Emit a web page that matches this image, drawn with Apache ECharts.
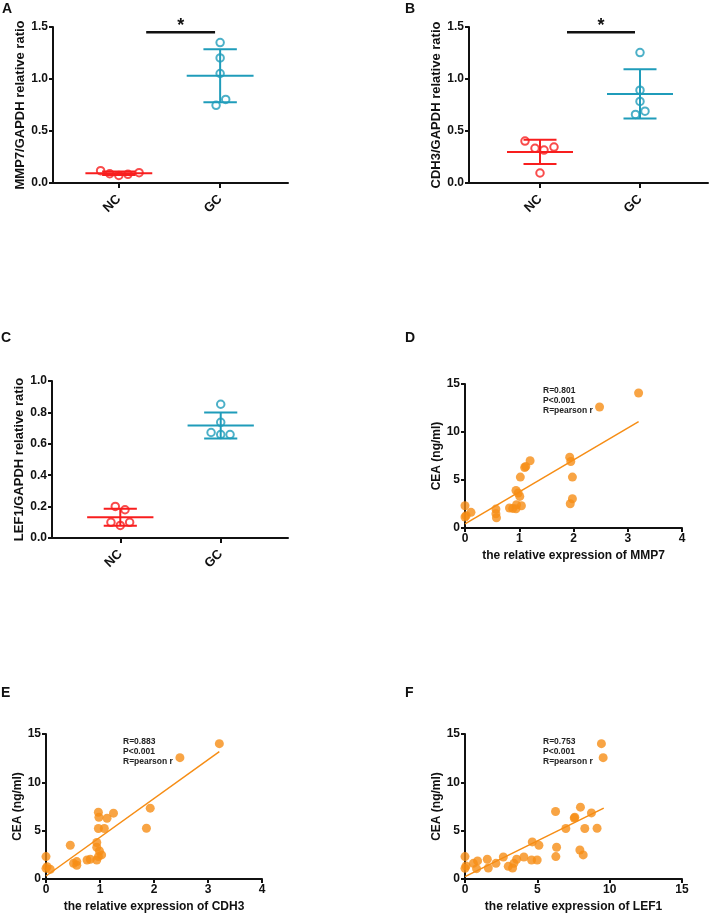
<!DOCTYPE html>
<html>
<head>
<meta charset="utf-8">
<script src="https://cdn.jsdelivr.net/npm/echarts@6/dist/echarts.min.js"></script>
<style>
html,body{margin:0;padding:0;background:#fff;}
#chart{width:709px;height:915px;}
</style>
</head>
<body>
<div id="chart"></div>
<script>
// ---------- data ----------
const groups = ['NC', 'GC'];

// Panel A: MMP7/GAPDH
const mmp7NC = [0.118, 0.089, 0.073, 0.083, 0.099];
const mmp7NCJitter = [-0.18, -0.09, 0, 0.09, 0.2];
const mmp7GC = [1.35, 1.203, 1.053, 0.804, 0.747];
const mmp7GCJitter = [0, 0, 0, 0.055, -0.04];
const mmp7Mean = [0.093, 1.031];
const mmp7SD = [0.017, 0.255];

// Panel B: CDH3/GAPDH
const cdh3NC = [0.403, 0.333, 0.317, 0.345, 0.096];
const cdh3NCJitter = [-0.15, -0.05, 0.04, 0.14, 0];
const cdh3GC = [1.254, 0.892, 0.784, 0.659, 0.691];
const cdh3GCJitter = [0, 0, 0, -0.045, 0.05];
const cdh3Mean = [0.299, 0.856];
const cdh3SD = [0.117, 0.237];

// Panel C: LEF1/GAPDH
const lef1NC = [0.201, 0.18, 0.10, 0.08, 0.10];
const lef1NCJitter = [-0.05, 0.047, -0.093, 0, 0.093];
const lef1GC = [0.852, 0.737, 0.672, 0.659, 0.659];
const lef1GCJitter = [0, 0, -0.096, 0, 0.093];
const lef1Mean = [0.132, 0.716];
const lef1SD = [0.054, 0.083];

// significance bar (x from, x to, y)
const sigBarX = [1.27, 1.95];
const sigBarY = 1.45;

// Panel D: MMP7 vs CEA
const dMMP7 = [0, 0.02, 0, 0.11, 0.57, 0.57, 0.58, 0.82, 0.88, 0.94, 0.95, 1.04, 0.94, 0.98, 1.01, 1.02, 1.1, 1.12, 1.2, 1.93, 1.95, 1.98, 1.98, 1.94, 2.48, 3.2];
const dCEA  = [2.32, 1.28, 1.14, 1.63, 1.97, 1.49, 1.07, 2.08, 2.04, 2.0, 2.42, 2.32, 3.91, 3.64, 3.29, 5.3, 6.3, 6.41, 7.0, 7.38, 6.93, 5.3, 3.05, 2.53, 12.6, 14.06];
const dFitX = [0, 3.2];
const dFitY = [0.42, 11.08];

// Panel E: CDH3 vs CEA
const eCDH3 = [0, 0.02, 0, 0.08, 0.45, 0.51, 0.57, 0.57, 0.76, 0.82, 0.94, 0.97, 1.03, 0.94, 0.94, 0.99, 0.97, 1.08, 0.97, 0.98, 1.13, 1.25, 1.86, 1.93, 2.48, 3.21];
const eCEA  = [2.32, 1.28, 1.1, 1.0, 3.49, 1.62, 1.8, 1.42, 1.97, 2.04, 1.97, 2.32, 2.49, 3.28, 3.77, 2.9, 5.22, 5.22, 6.91, 6.39, 6.29, 6.81, 5.25, 7.33, 12.55, 14.0];
const eFitX = [0, 3.21];
const eFitY = [0.31, 13.17];

// Panel F: LEF1 vs CEA
const fLEF1 = [0, 0.07, 0, 0.58, 0.87, 0.8, 1.54, 1.61, 2.14, 2.65, 2.99, 3.29, 3.38, 3.57, 4.07, 4.6, 4.99, 4.65, 5.11, 6.26, 6.33, 6.28, 6.97, 7.55, 7.59, 7.98, 7.94, 8.17, 8.28, 8.74, 9.13, 9.43, 9.55];
const fCEA  = [2.32, 1.35, 1.1, 1.62, 1.87, 1.07, 2.04, 1.14, 1.62, 2.28, 1.31, 1.14, 1.62, 2.04, 2.28, 1.97, 1.97, 3.84, 3.49, 6.98, 3.28, 2.32, 5.22, 6.3, 6.39, 7.43, 3.0, 2.49, 5.22, 6.84, 5.25, 14.0, 12.55];
const fFitX = [0, 9.59];
const fFitY = [0.24, 7.33];

const statsD = ['R=0.801', 'P<0.001', 'R=pearson r'];
const statsE = ['R=0.883', 'P<0.001', 'R=pearson r'];
const statsF = ['R=0.753', 'P<0.001', 'R=pearson r'];

// ---------- styling ----------
const FONT = "'Liberation Sans', Arial, Helvetica, sans-serif";
const RED = '#f81e1e';
const TEAL = '#1f9cba';
const ORANGE = '#f68d15';
const INK = '#111';

const grids = [
  {left: 53, top: 27, width: 235, height: 156},   // A
  {left: 469, top: 27, width: 239, height: 156},  // B
  {left: 52, top: 381, width: 236, height: 157},  // C
  {left: 465, top: 384, width: 217, height: 144}, // D
  {left: 46, top: 734, width: 216, height: 145},  // E
  {left: 465, top: 734, width: 217, height: 145}  // F
];

const axisLine = {lineStyle: {color: INK, width: 2}};
const tickStyle = {lineStyle: {color: INK, width: 2}};
const labelBase = {color: INK, fontSize: 12, fontWeight: 'bold', fontFamily: FONT};

function dotX(gi, min, max) {
  return {
    gridIndex: gi, type: 'value', min: min, max: max,
    axisLine: axisLine, splitLine: {show: false},
    axisTick: Object.assign({customValues: [1, 2], length: 5, inside: false}, tickStyle),
    axisLabel: Object.assign({}, labelBase, {customValues: [1, 2], rotate: 45, margin: 14, fontSize: 13,
      formatter: v => groups[Math.round(v) - 1] || ''})
  };
}
function dotY(gi, max, interval, name, gap) {
  return {
    gridIndex: gi, type: 'value', min: 0, max: max, interval: interval,
    axisLine: Object.assign({show: true}, axisLine), splitLine: {show: false},
    axisTick: Object.assign({show: true, length: 4}, tickStyle),
    axisLabel: Object.assign({margin: 5, formatter: v => v.toFixed(1)}, labelBase),
    name: name, nameLocation: 'middle', nameGap: gap, nameRotate: 90,
    nameTextStyle: {color: INK, fontSize: 13, fontWeight: 'bold', fontFamily: FONT}
  };
}
function scX(gi, max, interval, name) {
  return {
    gridIndex: gi, type: 'value', min: 0, max: max, interval: interval,
    axisLine: axisLine, splitLine: {show: false},
    axisTick: Object.assign({length: 4}, tickStyle),
    axisLabel: Object.assign({margin: 5}, labelBase),
    name: name, nameLocation: 'middle', nameGap: 22,
    nameTextStyle: {color: INK, fontSize: 12, fontWeight: 'bold', fontFamily: FONT}
  };
}
function scY(gi, name, gap) {
  return {
    gridIndex: gi, type: 'value', min: 0, max: 15, interval: 5,
    axisLine: Object.assign({show: true}, axisLine), splitLine: {show: false},
    axisTick: Object.assign({show: true, length: 4}, tickStyle),
    axisLabel: Object.assign({margin: 5}, labelBase),
    name: name, nameLocation: 'middle', nameGap: gap, nameRotate: 90,
    nameTextStyle: {color: INK, fontSize: 12, fontWeight: 'bold', fontFamily: FONT}
  };
}

function zipJ(vals, jit, center) { return vals.map((v, i) => [center + jit[i], v]); }
function zip(xs, ys) { return xs.map((x, i) => [x, ys[i]]); }

function dotSeries(gi, vals, jit, center, color) {
  return {
    type: 'scatter', xAxisIndex: gi, yAxisIndex: gi, z: 5,
    symbol: 'circle', symbolSize: 7.5,
    itemStyle: {color: 'rgba(255,255,255,0)', borderColor: color, borderWidth: 2},
    data: zipJ(vals, jit, center), silent: true
  };
}
function errSeries(gi, means, sds) {
  const colors = [RED, TEAL];
  return {
    type: 'custom', xAxisIndex: gi, yAxisIndex: gi, z: 3, silent: true,
    data: means.map((m, i) => [i + 1, m, sds[i]]),
    renderItem: function (params, api) {
      const x = api.value(0), m = api.value(1), s = api.value(2);
      const c = colors[params.dataIndex];
      const st = {stroke: c, lineWidth: 2};
      const L = api.coord([x - 0.33, m]), R = api.coord([x + 0.33, m]);
      const T = api.coord([x, m + s]), B = api.coord([x, m - s]);
      const tl = api.coord([x - 0.165, m + s]), tr = api.coord([x + 0.165, m + s]);
      const bl = api.coord([x - 0.165, m - s]), br = api.coord([x + 0.165, m - s]);
      return {type: 'group', children: [
        {type: 'line', shape: {x1: L[0], y1: L[1], x2: R[0], y2: R[1]}, style: st},
        {type: 'line', shape: {x1: T[0], y1: T[1], x2: B[0], y2: B[1]}, style: st},
        {type: 'line', shape: {x1: tl[0], y1: tl[1], x2: tr[0], y2: tr[1]}, style: st},
        {type: 'line', shape: {x1: bl[0], y1: bl[1], x2: br[0], y2: br[1]}, style: st}
      ]};
    }
  };
}
function sigSeries(gi) {
  return {
    type: 'line', xAxisIndex: gi, yAxisIndex: gi, symbol: 'none', silent: true,
    lineStyle: {color: INK, width: 2.5},
    data: [[sigBarX[0], sigBarY], [sigBarX[1], sigBarY]],
    markPoint: {
      symbol: 'circle', symbolSize: 1, itemStyle: {color: 'transparent'},
      label: {show: true, formatter: '*', color: INK, fontSize: 18, fontWeight: 'bold', fontFamily: FONT, offset: [0, -6]},
      data: [{coord: [(sigBarX[0] + sigBarX[1]) / 2, sigBarY]}]
    }
  };
}
function ptSeries(gi, xs, ys) {
  return {
    type: 'scatter', xAxisIndex: gi, yAxisIndex: gi, symbolSize: 9, z: 4, silent: true,
    itemStyle: {color: ORANGE}, data: zip(xs, ys)
  };
}
function fitSeries(gi, xs, ys) {
  return {
    type: 'line', xAxisIndex: gi, yAxisIndex: gi, symbol: 'none', z: 3, silent: true,
    lineStyle: {color: ORANGE, width: 1.5}, data: zip(xs, ys)
  };
}

function letter(t, x, y) {
  return {type: 'text', left: x, top: y, style: {text: t, fill: INK, font: 'bold 14px ' + FONT}};
}
function stats(lines, x, y) {
  return lines.map((t, i) => ({type: 'text', left: x, top: y + i * 10,
    style: {text: t, fill: '#222', font: '600 8.5px ' + FONT}}));
}

const option = {
  backgroundColor: '#fff',
  animation: false,
  grid: grids,
  xAxis: [
    dotX(0, 0.35, 2.67), dotX(1, 0.29, 2.68), dotX(2, 0.32, 2.67),
    scX(3, 4, 1, 'the relative expression of MMP7'),
    scX(4, 4, 1, 'the relative expression of CDH3'),
    scX(5, 15, 5, 'the relative expression of LEF1')
  ],
  yAxis: [
    dotY(0, 1.5, 0.5, 'MMP7/GAPDH relative ratio', 25),
    dotY(1, 1.5, 0.5, 'CDH3/GAPDH relative ratio', 17),
    dotY(2, 1.0, 0.2, 'LEF1/GAPDH relative ratio', 24),
    scY(3, 'CEA (ng/ml)', 19), scY(4, 'CEA (ng/ml)', 18), scY(5, 'CEA (ng/ml)', 19)
  ],
  series: [
    errSeries(0, mmp7Mean, mmp7SD),
    dotSeries(0, mmp7NC, mmp7NCJitter, 1, RED),
    dotSeries(0, mmp7GC, mmp7GCJitter, 2, TEAL),
    sigSeries(0),
    errSeries(1, cdh3Mean, cdh3SD),
    dotSeries(1, cdh3NC, cdh3NCJitter, 1, RED),
    dotSeries(1, cdh3GC, cdh3GCJitter, 2, TEAL),
    sigSeries(1),
    errSeries(2, lef1Mean, lef1SD),
    dotSeries(2, lef1NC, lef1NCJitter, 1, RED),
    dotSeries(2, lef1GC, lef1GCJitter, 2, TEAL),
    fitSeries(3, dFitX, dFitY), ptSeries(3, dMMP7, dCEA),
    fitSeries(4, eFitX, eFitY), ptSeries(4, eCDH3, eCEA),
    fitSeries(5, fFitX, fFitY), ptSeries(5, fLEF1, fCEA)
  ],
  graphic: [
    letter('A', 2, 2), letter('B', 405, 2), letter('C', 1, 331),
    letter('D', 405, 331), letter('E', 1, 686), letter('F', 405, 686)
  ].concat(stats(statsD, 543, 386), stats(statsE, 123, 737), stats(statsF, 543, 737))
};

const chart = echarts.init(document.getElementById('chart'), null, {renderer: 'canvas'});
chart.setOption(option);
</script>
</body>
</html>
